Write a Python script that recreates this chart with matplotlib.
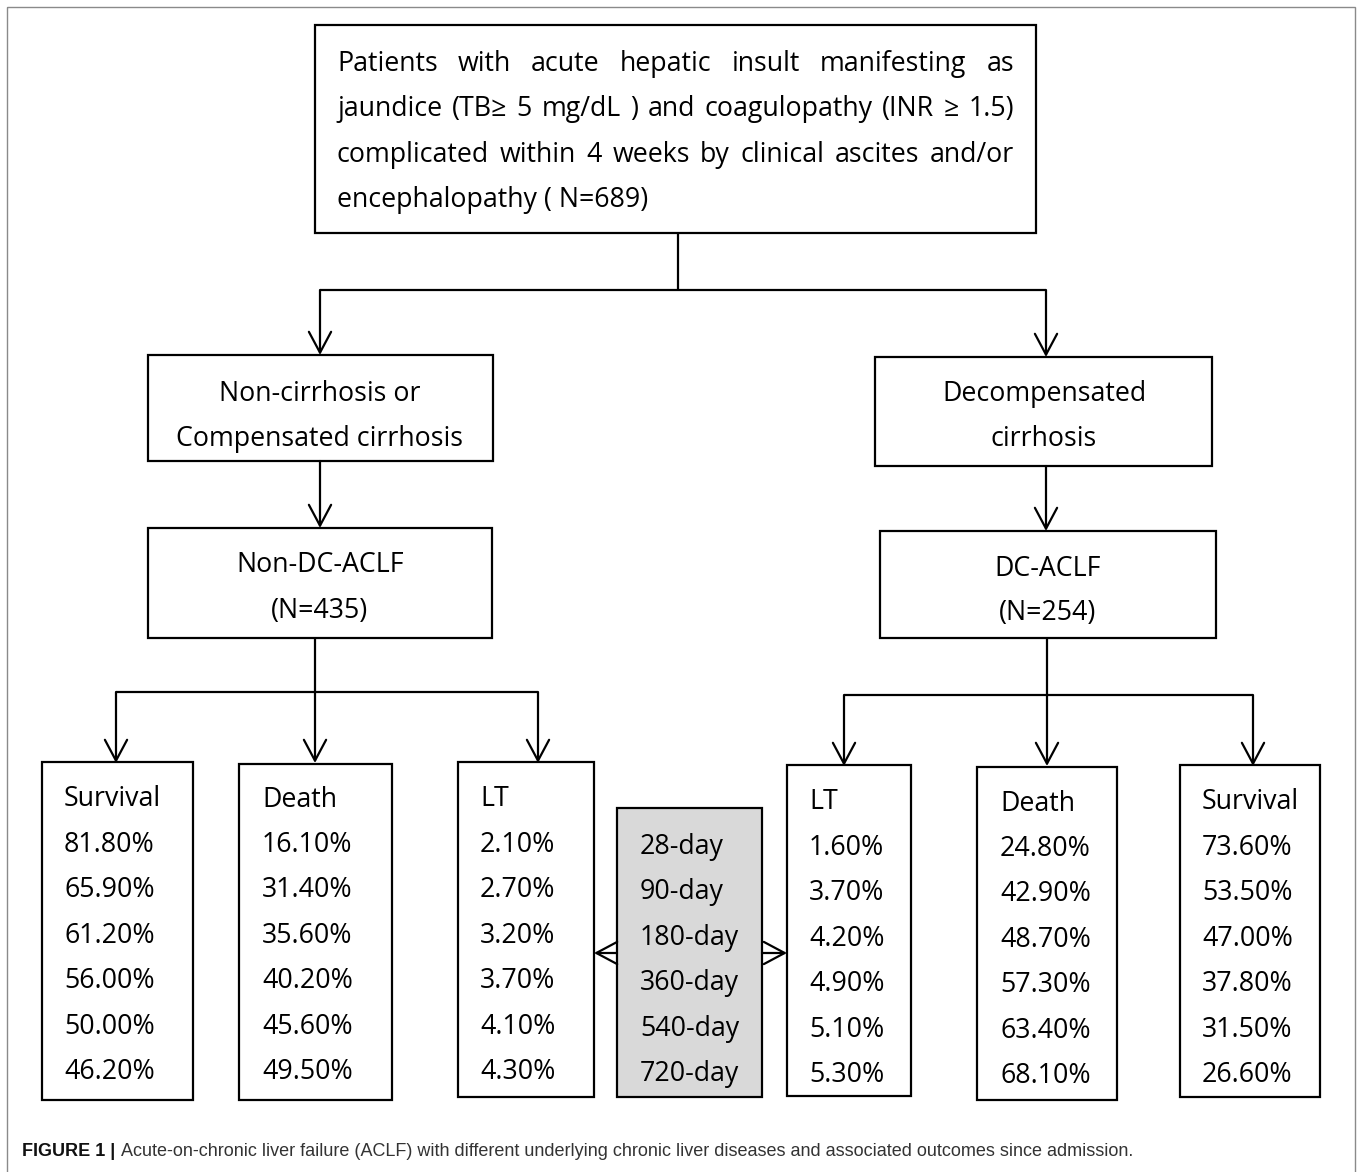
import matplotlib.pyplot as plt
from matplotlib.patches import Rectangle

plt.rcParams['font.family'] = ['Open Sans', 'DejaVu Sans']

# data
periods = ['28-day', '90-day', '180-day', '360-day', '540-day', '720-day']
non_dc_survival = [81.80, 65.90, 61.20, 56.00, 50.00, 46.20]
non_dc_death = [16.10, 31.40, 35.60, 40.20, 45.60, 49.50]
non_dc_lt = [2.10, 2.70, 3.20, 3.70, 4.10, 4.30]
dc_lt = [1.60, 3.70, 4.20, 4.90, 5.10, 5.30]
dc_death = [24.80, 42.90, 48.70, 57.30, 63.40, 68.10]
dc_survival = [73.60, 53.50, 47.00, 37.80, 31.50, 26.60]

top_lines = ['Patients with acute hepatic insult manifesting as',
             'jaundice (TB\u2265 5 mg/dL ) and coagulopathy (INR \u2265 1.5)',
             'complicated within 4 weeks by clinical ascites and/or',
             'encephalopathy ( N=689)']
caption_bold = 'FIGURE 1 |'
caption = ('Acute-on-chronic liver failure (ACLF) with different underlying chronic '
           'liver diseases and associated outcomes since admission.')

W, H = 1357, 1172
fig = plt.figure(figsize=(W / 100, H / 100), dpi=100)
ax = fig.add_axes([0, 0, 1, 1])
ax.set_xlim(0, W)
ax.set_ylim(H, 0)
ax.axis('off')

FS = 19.3
LW = 1.6
DY = 2  # small downward nudge for text


def box(x0, y0, x1, y1, fc='white'):
    ax.add_patch(Rectangle((x0, y0), x1 - x0, y1 - y0, fc=fc, ec='black', lw=LW, zorder=2))


def line(xs, ys):
    ax.plot(xs, ys, color='black', lw=LW, solid_capstyle='butt', zorder=1)


def arrow(x0, y0, x1, y1):
    ax.annotate('', xy=(x1, y1), xytext=(x0, y0),
                arrowprops=dict(arrowstyle='->,head_length=1.5,head_width=0.8',
                                color='black', lw=LW, shrinkA=0, shrinkB=0),
                zorder=3)


def label(x, y, s, ha='left'):
    ax.text(x, y + DY, s, fontsize=FS, ha=ha, va='center', zorder=4)


def justify(text, x0, x1, y):
    words = text.split(' ')
    ts = [ax.text(0, y + DY, w, fontsize=FS, va='center', ha='left', zorder=4) for w in words]
    r = fig.canvas.get_renderer()
    widths = [t.get_window_extent(r).width for t in ts]
    gap = (x1 - x0 - sum(widths)) / (len(words) - 1)
    x = x0
    for t, w in zip(ts, widths):
        t.set_x(x)
        x += w + gap


# outer frame
ax.add_patch(Rectangle((7, 7), 1348, 1200, fc='none', ec='#8a8a8a', lw=1.0, zorder=0))

# top box
box(315, 25, 1036, 233)
for i, (txt, y) in enumerate(zip(top_lines, [62, 107, 153, 198])):
    if i < 3:
        justify(txt, 337, 1014, y)
    else:
        label(337, y, txt)

# first split
line([678, 678], [233, 290])
line([320, 1046], [290, 290])
arrow(320, 290, 320, 355)
arrow(1046, 290, 1046, 357)

# second level
box(148, 355, 493, 461)
label(320, 392, 'Non-cirrhosis or', 'center')
label(320, 437, 'Compensated cirrhosis', 'center')
box(875, 357, 1212, 466)
label(1044, 392, 'Decompensated', 'center')
label(1044, 437, 'cirrhosis', 'center')

arrow(320, 461, 320, 528)
arrow(1046, 466, 1046, 531)

box(148, 528, 492, 638)
label(320, 563, 'Non-DC-ACLF', 'center')
label(320, 609, '(N=435)', 'center')
box(880, 531, 1216, 638)
label(1048, 567, 'DC-ACLF', 'center')
label(1048, 611, '(N=254)', 'center')

# outcome branches
line([315, 315], [638, 692])
line([116, 538], [692, 692])
for x in [116, 315, 538]:
    arrow(x, 692, x, 763)
line([1047, 1047], [638, 695])
line([844, 1253], [695, 695])
for x in [844, 1047, 1253]:
    arrow(x, 695, x, 766)

outcomes = [
    (42, 762, 193, 1100, 64, 797, 843, 'Survival', non_dc_survival),
    (239, 764, 392, 1100, 262, 798, 843, 'Death', non_dc_death),
    (458, 762, 594, 1097, 480, 797, 843, 'LT', non_dc_lt),
    (787, 765, 911, 1096, 809, 800, 846, 'LT', dc_lt),
    (977, 767, 1117, 1100, 1000, 802, 847, 'Death', dc_death),
    (1180, 765, 1320, 1097, 1202, 800, 846, 'Survival', dc_survival),
]
step = 45.4
for x0, y0, x1, y1, tx, ty, vy, title, vals in outcomes:
    box(x0, y0, x1, y1)
    label(tx, ty, title)
    for k, v in enumerate(vals):
        label(tx, vy + k * step, '%.2f%%' % v)

# time points box
box(617, 808, 762, 1097, fc='#d9d9d9')
for k, p in enumerate(periods):
    label(640, 845 + k * step, p)
arrow(617, 953, 594, 953)
arrow(762, 953, 787, 953)

# caption
t1 = ax.text(22, 1151, caption_bold, fontsize=12.95, fontweight='bold', ha='left', va='center',
             family='Liberation Sans', color='#111111')
r = fig.canvas.get_renderer()
bx = t1.get_window_extent(r).x1
ax.text(bx + 6, 1151, caption, fontsize=12.95, ha='left', va='center',
        family='Liberation Sans', color='#333333')

fig.savefig('out.png', dpi=100)
